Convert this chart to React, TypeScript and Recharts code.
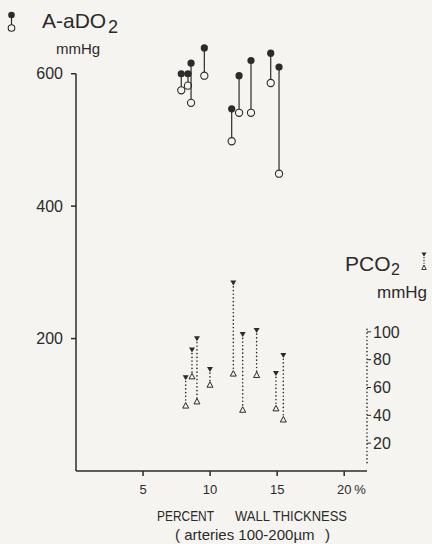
import React from "react";
import { ComposedChart, Scatter, XAxis, YAxis, ReferenceLine } from "recharts";

// wall thickness (%) of each specimen, A-aDO2 panel
const wallA = [7.85, 8.35, 8.58, 9.57, 11.61, 12.16, 13.05, 14.52, 15.14];
// A-aDO2 mmHg: filled circle (upper) and open circle (lower)
const aado2Filled = [600, 600, 616, 639, 547, 597, 620, 631, 610];
const aado2Open = [575, 582, 556, 597, 498, 541, 541, 586, 449];

// wall thickness (%) for the PCO2 pairs
const wallP = [8.18, 8.65, 9.02, 9.99, 11.73, 12.43, 13.47, 14.91, 15.46];
// PCO2 mmHg: filled triangle (upper) and open triangle (lower)
const pco2High = [67, 87, 95, 73, 135, 98, 101, 70, 83];
const pco2Low = [47, 68, 50, 62, 70, 44, 69, 45, 37];

const xTicks = [5, 10, 15, 20];
const leftTicks = [200, 400, 600];
const rightTicks = [20, 40, 60, 80, 100];

const ink = "#2b2b2b";
const paper = "#f6f4f0";
const font = "'Liberation Sans', Arial, sans-serif";
const dotted = { stroke: ink, strokeWidth: 1.6, strokeDasharray: "0.1 3.6", strokeLinecap: "round" as const };

function CircleMark(props: any) {
  const { cx, cy, payload } = props;
  if (payload.k === "hi") return <circle cx={cx} cy={cy} r={3.6} fill={ink} />;
  return <circle cx={cx} cy={cy} r={3.6} fill={paper} stroke={ink} strokeWidth={1.1} />;
}

function TriMark(props: any) {
  const { cx, cy, payload } = props;
  if (payload.k === "hi")
    return <polygon points={`${cx - 3},${cy - 2.5} ${cx + 3},${cy - 2.5} ${cx},${cy + 2.5}`} fill={ink} />;
  return (
    <polygon
      points={`${cx},${cy - 3} ${cx - 3},${cy + 2.5} ${cx + 3},${cy + 2.5}`}
      fill={paper}
      stroke={ink}
      strokeWidth={1}
    />
  );
}

function XTick(props: any) {
  const { x, y, payload } = props;
  return (
    <g>
      <text x={x} y={y} dy="0.71em" textAnchor="middle" fontSize={13} fill={ink} fontFamily={font}>
        {payload.value}
      </text>
      {payload.value === 20 && (
        <text x={x + 10} y={y} dy="0.71em" fontSize={13} fill={ink} fontFamily={font}>
          %
        </text>
      )}
    </g>
  );
}

export default function App() {
  return (
    <div style={{ position: "absolute", left: 0, top: 0, width: 432, height: 544, background: paper, fontFamily: font }}>
      <ComposedChart width={432} height={544} margin={{ top: 34, right: 0, bottom: 0, left: 0 }}>
        <XAxis
          type="number"
          dataKey="x"
          domain={[0, 21.7]}
          ticks={xTicks}
          height={73}
          stroke={ink}
          strokeWidth={1.5}
          tickSize={5}
          tickMargin={9}
          tick={XTick}
        />
        <YAxis
          yAxisId="a"
          type="number"
          dataKey="y"
          domain={[0, 660]}
          ticks={leftTicks}
          width={76}
          axisLine={false}
          tickLine={{ stroke: ink, strokeWidth: 1.5 }}
          tickSize={5}
          tickMargin={8}
          tick={{ fontSize: 16, fill: ink, fontFamily: font }}
        />
        <YAxis
          yAxisId="p"
          orientation="right"
          type="number"
          dataKey="y"
          domain={[0, 314]}
          ticks={rightTicks}
          width={65}
          axisLine={false}
          tickLine={{ stroke: ink, strokeWidth: 1 }}
          tickSize={4}
          tickMargin={2}
          tick={{ fontSize: 16, fill: ink, fontFamily: font }}
        />
        {/* left axis stops at 600 */}
        <ReferenceLine
          yAxisId="a"
          ifOverflow="visible"
          segment={[
            { x: 0, y: 0 },
            { x: 0, y: 600 },
          ]}
          stroke={ink}
          strokeWidth={1.5}
        />
        {/* dotted PCO2 scale */}
        <ReferenceLine
          yAxisId="p"
          ifOverflow="visible"
          segment={[
            { x: 21.7, y: 6 },
            { x: 21.7, y: 102 },
          ]}
          {...dotted}
        />
        {wallA.map((x, i) => (
          <Scatter
            key={`a${i}`}
            yAxisId="a"
            data={[
              { x, y: aado2Filled[i], k: "hi" },
              { x, y: aado2Open[i], k: "lo" },
            ]}
            line={{ stroke: ink, strokeWidth: 1.2 }}
            shape={CircleMark}
            isAnimationActive={false}
          />
        ))}
        {wallP.map((x, i) => (
          <Scatter
            key={`p${i}`}
            yAxisId="p"
            data={[
              { x, y: pco2High[i], k: "hi" },
              { x, y: pco2Low[i], k: "lo" },
            ]}
            line={dotted}
            shape={TriMark}
            isAnimationActive={false}
          />
        ))}
      </ComposedChart>

      <svg
        width={432}
        height={544}
        style={{ position: "absolute", left: 0, top: 0, pointerEvents: "none" }}
        fontFamily={font}
        fill={ink}
      >
        {/* A-aDO2 legend + title */}
        <line x1={11.5} y1={15} x2={11.5} y2={28} stroke={ink} strokeWidth={1.2} />
        <circle cx={11.5} cy={15} r={3.3} fill={ink} />
        <circle cx={11.5} cy={28} r={3.3} fill={paper} stroke={ink} strokeWidth={1.1} />
        <text x={42} y={28} fontSize={21}>A-aDO</text>
        <text x={108} y={33} fontSize={18}>2</text>
        <text x={56} y={54} fontSize={15}>mmHg</text>

        {/* PCO2 legend + title */}
        <text x={345} y={271} fontSize={21}>PCO</text>
        <text x={391} y={275} fontSize={16}>2</text>
        <line x1={424} y1={255} x2={424} y2={267} {...dotted} strokeWidth={1.3} strokeDasharray="0.1 2.6" />
        <polygon points="421.5,252.5 426.5,252.5 424,256.5" fill={ink} />
        <polygon points="424,265 421.8,269.5 426.2,269.5" fill={paper} stroke={ink} strokeWidth={0.9} />
        <text x={377} y={298} fontSize={17}>mmHg</text>

        {/* x axis caption */}
        <text x={157} y={521} fontSize={15} textLength={57} lengthAdjust="spacingAndGlyphs">PERCENT</text>
        <text x={235} y={521} fontSize={15} textLength={112} lengthAdjust="spacingAndGlyphs">WALL THICKNESS</text>
        <text x={175} y={540} fontSize={15}>( arteries 100-200µm</text>
        <text x={325} y={540} fontSize={15}>)</text>
      </svg>
    </div>
  );
}
